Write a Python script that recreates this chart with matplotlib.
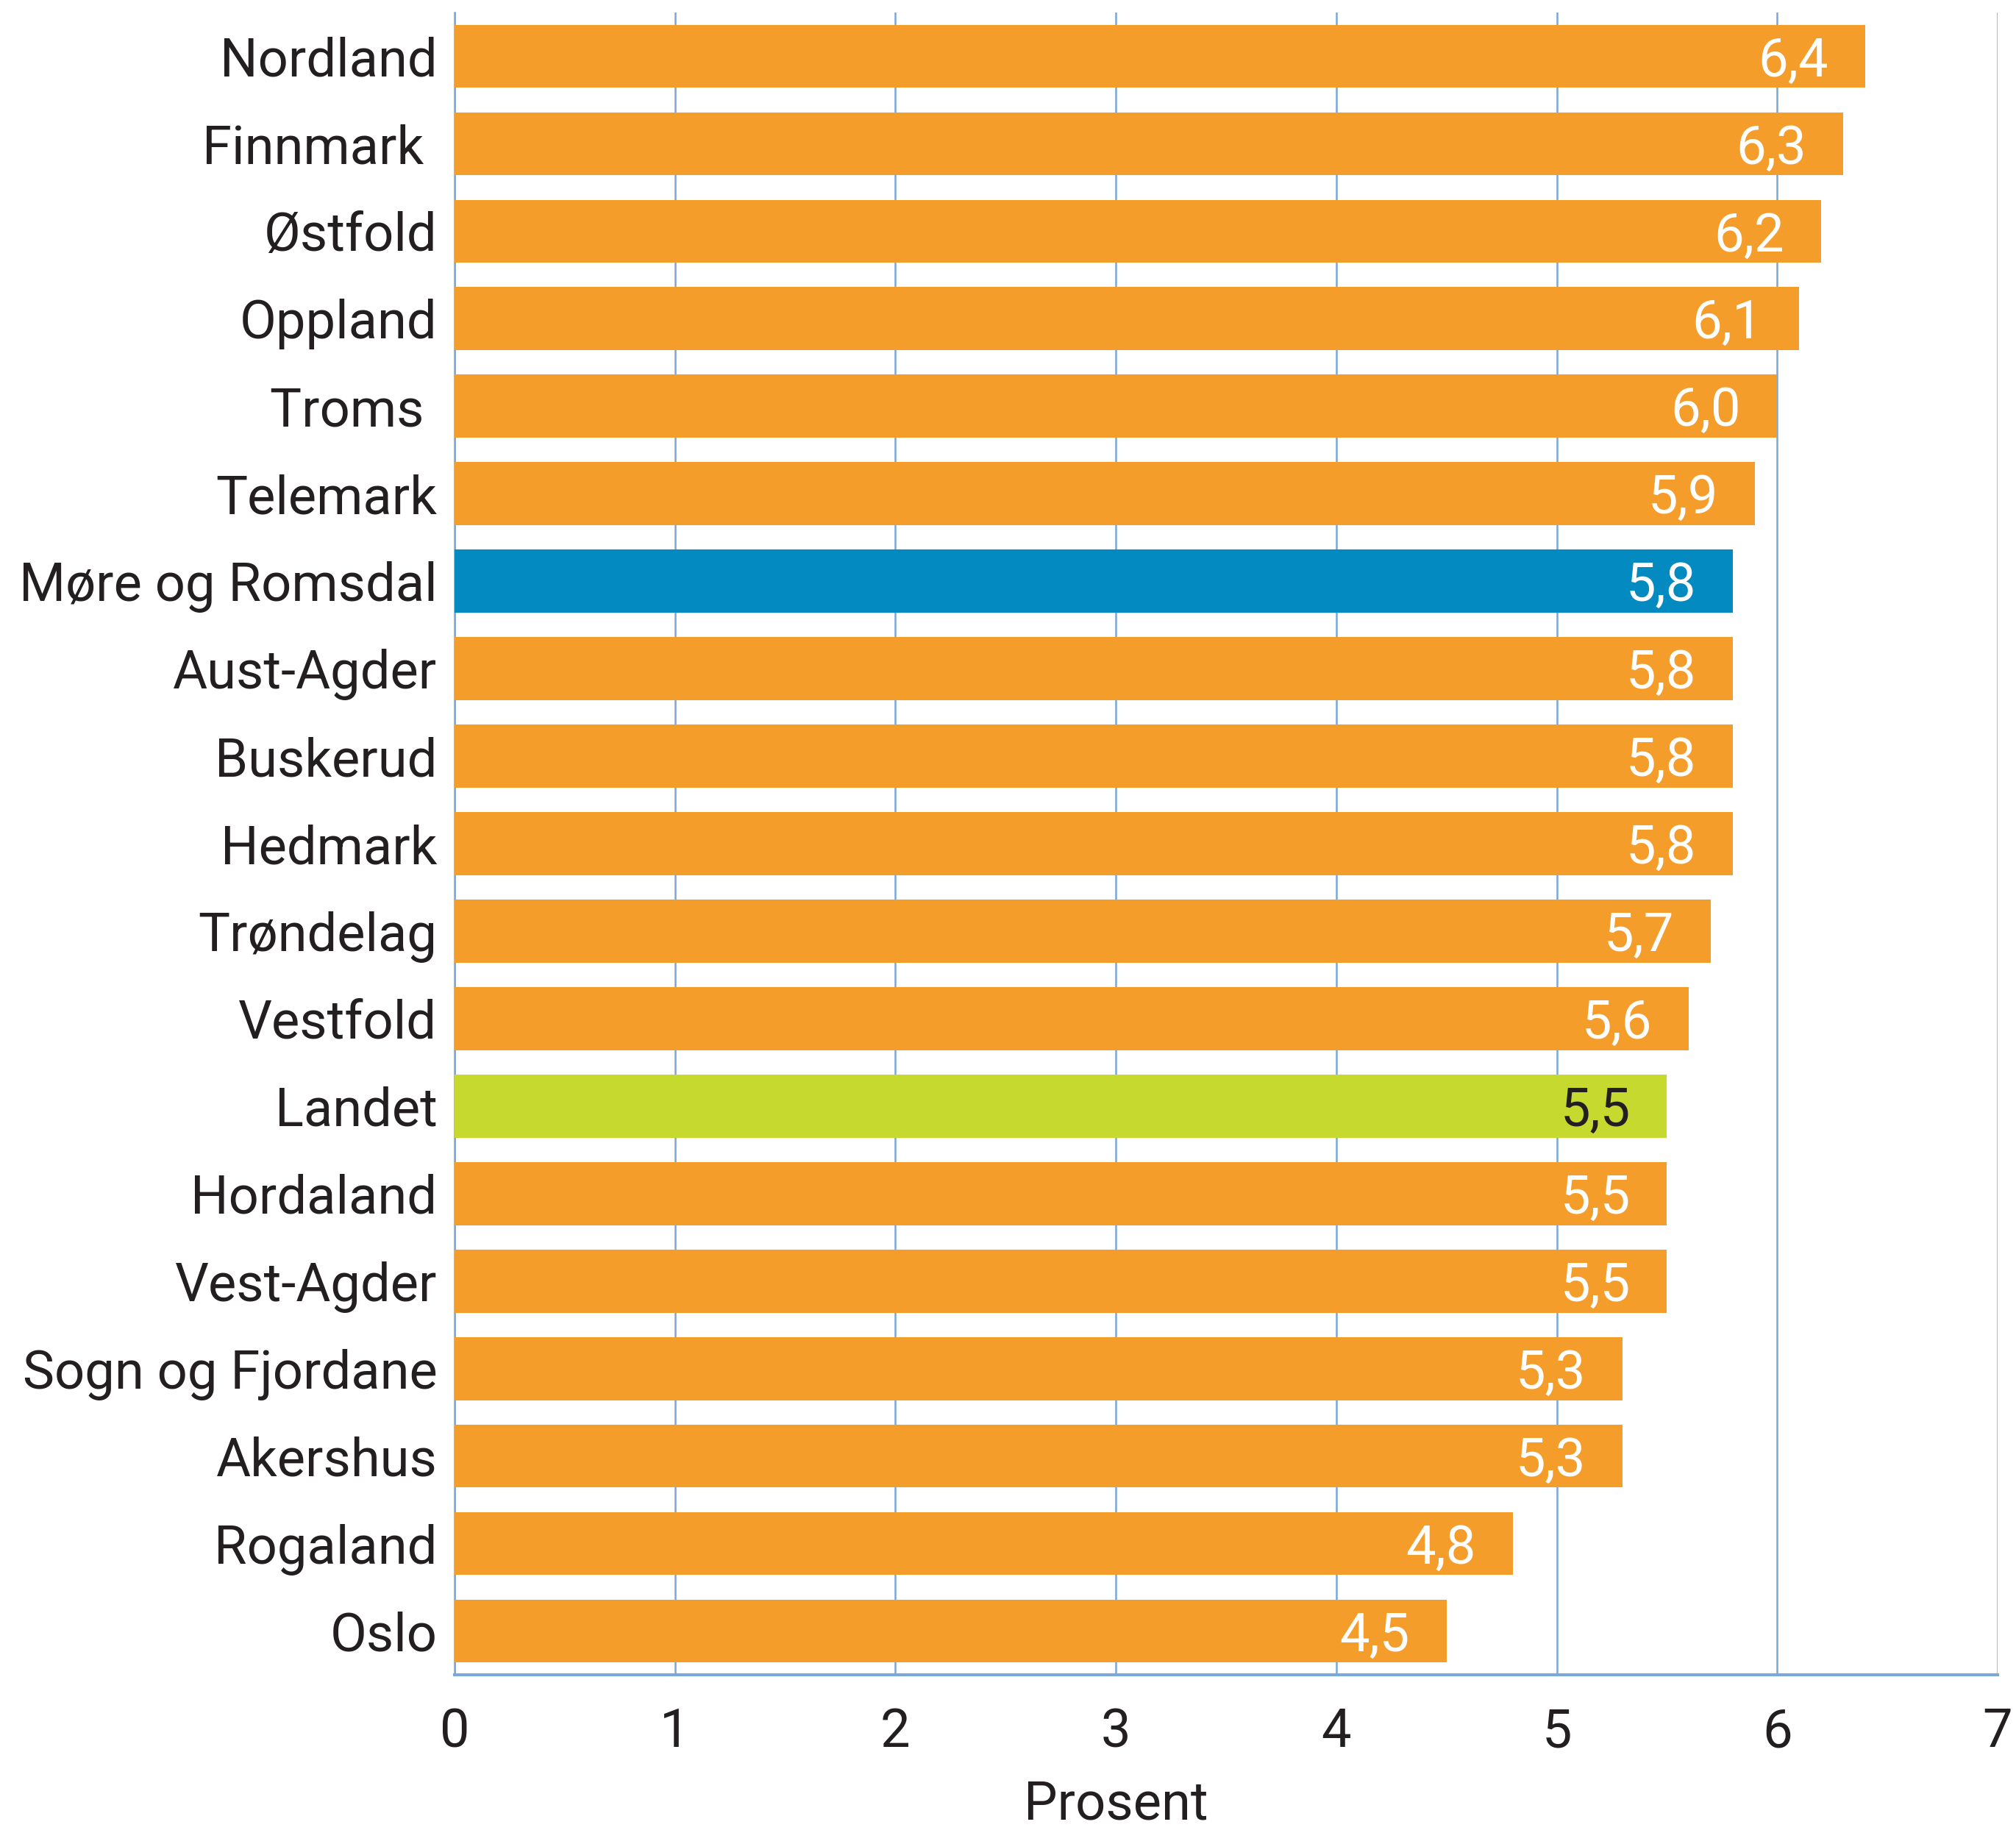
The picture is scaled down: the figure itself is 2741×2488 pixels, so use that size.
import matplotlib
matplotlib.use("Agg")
import matplotlib.pyplot as plt
from matplotlib import font_manager as fm
import matplotlib.transforms as mtransforms

categories = ["Nordland", "Finnmark ", "Østfold", "Oppland", "Troms ", "Telemark",
              "Møre og Romsdal", "Aust-Agder", "Buskerud", "Hedmark", "Trøndelag",
              "Vestfold", "Landet", "Hordaland", "Vest-Agder", "Sogn og Fjordane",
              "Akershus", "Rogaland", "Oslo"]
values = [6.4, 6.3, 6.2, 6.1, 6.0, 5.9, 5.8, 5.8, 5.8, 5.8, 5.7, 5.6, 5.5, 5.5, 5.5,
          5.3, 5.3, 4.8, 4.5]
value_labels = ["6,4", "6,3", "6,2", "6,1", "6,0", "5,9", "5,8", "5,8", "5,8", "5,8",
                "5,7", "5,6", "5,5", "5,5", "5,5", "5,3", "5,3", "4,8", "4,5"]
xticks = [0, 1, 2, 3, 4, 5, 6, 7]
xlabel = "Prosent"

ORANGE = "#F59D2B"
BLUE = "#028AC1"
GREEN = "#C5D92E"
GRID = "#7BA7D9"
TEXT = "#231F20"

available = {f.name for f in fm.fontManager.ttflist}
family = [f for f in ["Liberation Sans Narrow", "Roboto", "DejaVu Sans"] if f in available]
plt.rcParams['font.family'] = family
plt.rcParams['font.weight'] = 'normal'

DPI = 100
fig = plt.figure(figsize=(27.41, 24.88), dpi=DPI)
ax = fig.add_axes([618/2741, 1 - 2277/2488, (2716-618)/2741, (2277-17)/2488])

colors = []
for c in categories:
    if c.startswith("Møre"):
        colors.append(BLUE)
    elif c == "Landet":
        colors.append(GREEN)
    else:
        colors.append(ORANGE)

ypos = list(range(len(categories)))
ax.barh(ypos, values, height=0.72, color=colors, zorder=3)
ax.set_ylim(len(categories) - 0.5, -0.5)
ax.set_xlim(0, 7)

ax.set_xticks(xticks)
ax.set_xticklabels([str(t) for t in xticks])
ax.set_yticks(ypos)
ax.set_yticklabels(categories)

fs = 52
ax.tick_params(axis='x', length=0, pad=32, labelsize=fs, labelcolor=TEXT)
ax.tick_params(axis='y', length=0, pad=17, labelsize=fs, labelcolor=TEXT)

ax.grid(axis='x', color=GRID, linewidth=1.8, zorder=0)
ax.grid(axis='y', visible=False)
ax.set_axisbelow(True)
for s in ["top", "right"]:
    ax.spines[s].set_visible(False)
ax.spines["left"].set_color(GRID)
ax.spines["left"].set_linewidth(1.8)
ax.spines["bottom"].set_color(GRID)
ax.spines["bottom"].set_linewidth(3.0)
ax.spines["bottom"].set_zorder(4)

for y, v, lab, c in zip(ypos, values, value_labels, colors):
    tc = TEXT if c == GREEN else "white"
    ax.annotate(lab, xy=(v, y), xytext=(-36, -19.5), textcoords="offset points",
                ha="right", va="baseline", fontsize=fs, color=tc, zorder=5)

trans = mtransforms.blended_transform_factory(ax.transData, fig.transFigure)
ax.text(3, 1 - 2474/2488, xlabel, transform=trans, ha="center", va="baseline",
        fontsize=fs, color=TEXT)

fig.savefig("out.png", dpi=DPI)
